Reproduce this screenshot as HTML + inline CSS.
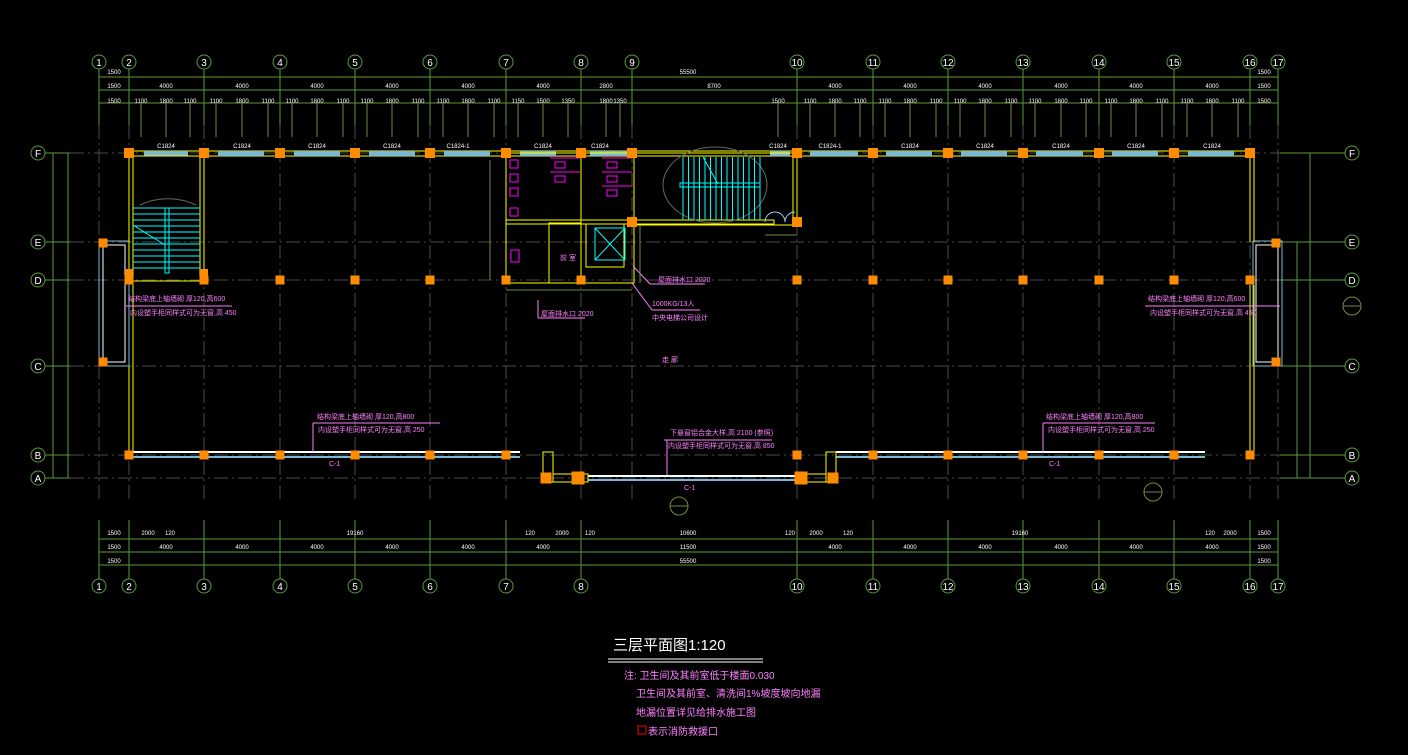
<!DOCTYPE html>
<html><head><meta charset="utf-8"><style>
html,body{margin:0;padding:0;background:#000;width:1408px;height:755px;overflow:hidden}
svg{display:block;position:absolute;left:0;top:0}
text{font-family:"Liberation Sans","Noto Sans CJK SC",sans-serif}
.d{fill:#fff;font-size:6px}
.p{fill:#ff80ff;font-size:7px}
.ax{fill:#fff;font-size:10px;text-anchor:middle}
</style></head><body>
<svg id="s" width="1408" height="755" viewBox="0 0 1408 755" xmlns="http://www.w3.org/2000/svg">
<g id="g"></g>
<g class="ax">
<text x="99" y="66">1</text><text x="129" y="66">2</text><text x="204" y="66">3</text><text x="280" y="66">4</text><text x="355" y="66">5</text><text x="430" y="66">6</text><text x="506" y="66">7</text><text x="581" y="66">8</text><text x="632" y="66">9</text><text x="797" y="66">10</text><text x="873" y="66">11</text><text x="948" y="66">12</text><text x="1023" y="66">13</text><text x="1099" y="66">14</text><text x="1174" y="66">15</text><text x="1250" y="66">16</text><text x="1278" y="66">17</text>
<text x="99" y="590">1</text><text x="129" y="590">2</text><text x="204" y="590">3</text><text x="280" y="590">4</text><text x="355" y="590">5</text><text x="430" y="590">6</text><text x="506" y="590">7</text><text x="581" y="590">8</text><text x="797" y="590">10</text><text x="873" y="590">11</text><text x="948" y="590">12</text><text x="1023" y="590">13</text><text x="1099" y="590">14</text><text x="1174" y="590">15</text><text x="1250" y="590">16</text><text x="1278" y="590">17</text>
<text x="38" y="157">F</text><text x="38" y="246">E</text><text x="38" y="284">D</text><text x="38" y="370">C</text><text x="38" y="459">B</text><text x="38" y="482">A</text>
<text x="1352" y="157">F</text><text x="1352" y="246">E</text><text x="1352" y="284">D</text><text x="1352" y="370">C</text><text x="1352" y="459">B</text><text x="1352" y="482">A</text>
</g>
<g class="d" text-anchor="middle">
<text x="688" y="74">55500</text><text x="114" y="74">1500</text><text x="1264" y="74">1500</text>
<text x="114" y="88">1500</text><text x="166" y="88">4000</text><text x="242" y="88">4000</text><text x="317" y="88">4000</text><text x="392" y="88">4000</text><text x="468" y="88">4000</text><text x="543" y="88">4000</text><text x="606" y="88">2800</text><text x="714" y="88">8700</text><text x="835" y="88">4000</text><text x="910" y="88">4000</text><text x="985" y="88">4000</text><text x="1061" y="88">4000</text><text x="1136" y="88">4000</text><text x="1212" y="88">4000</text><text x="1264" y="88">1500</text>
<text x="114" y="103">1500</text><text x="141" y="103">1100</text><text x="166" y="103">1800</text><text x="190" y="103">1100</text><text x="216" y="103">1100</text><text x="242" y="103">1800</text><text x="268" y="103">1100</text><text x="292" y="103">1100</text><text x="317" y="103">1800</text><text x="343" y="103">1100</text><text x="367" y="103">1100</text><text x="392" y="103">1800</text><text x="418" y="103">1100</text><text x="443" y="103">1100</text><text x="468" y="103">1800</text><text x="494" y="103">1100</text><text x="518" y="103">1150</text><text x="543" y="103">1500</text><text x="568" y="103">1350</text><text x="606" y="103">1800</text><text x="620" y="103">1350</text><text x="778" y="103">1500</text><text x="810" y="103">1100</text><text x="835" y="103">1800</text><text x="860" y="103">1100</text><text x="885" y="103">1100</text><text x="910" y="103">1800</text><text x="936" y="103">1100</text><text x="960" y="103">1100</text><text x="985" y="103">1800</text><text x="1011" y="103">1100</text><text x="1035" y="103">1100</text><text x="1061" y="103">1800</text><text x="1086" y="103">1100</text><text x="1111" y="103">1100</text><text x="1136" y="103">1800</text><text x="1162" y="103">1100</text><text x="1187" y="103">1100</text><text x="1212" y="103">1800</text><text x="1238" y="103">1100</text><text x="1264" y="103">1500</text>
<text x="114" y="535">1500</text><text x="148" y="535">2000</text><text x="170" y="535">120</text><text x="355" y="535">19160</text><text x="530" y="535">120</text><text x="562" y="535">2000</text><text x="590" y="535">120</text><text x="688" y="535">10600</text><text x="790" y="535">120</text><text x="816" y="535">2000</text><text x="848" y="535">120</text><text x="1020" y="535">19160</text><text x="1210" y="535">120</text><text x="1230" y="535">2000</text><text x="1264" y="535">1500</text>
<text x="114" y="549">1500</text><text x="166" y="549">4000</text><text x="242" y="549">4000</text><text x="317" y="549">4000</text><text x="392" y="549">4000</text><text x="468" y="549">4000</text><text x="543" y="549">4000</text><text x="688" y="549">11500</text><text x="835" y="549">4000</text><text x="910" y="549">4000</text><text x="985" y="549">4000</text><text x="1061" y="549">4000</text><text x="1136" y="549">4000</text><text x="1212" y="549">4000</text><text x="1264" y="549">1500</text>
<text x="114" y="563">1500</text><text x="688" y="563">55500</text><text x="1264" y="563">1500</text>
<text x="166" y="148">C1824</text><text x="242" y="148">C1824</text><text x="317" y="148">C1824</text><text x="392" y="148">C1824</text><text x="458" y="148">C1824-1</text><text x="543" y="148">C1824</text><text x="600" y="148">C1824</text><text x="778" y="148">C1824</text><text x="830" y="148">C1824-1</text><text x="910" y="148">C1824</text><text x="985" y="148">C1824</text><text x="1061" y="148">C1824</text><text x="1136" y="148">C1824</text><text x="1212" y="148">C1824</text>
</g>
<g class="p">
<text x="128" y="301">结构梁底上轴墙砌 厚120,高600</text>
<text x="130" y="315">内设塑手柜同样式可为无窗,高 450</text>
<text x="1148" y="301">结构梁底上轴墙砌 厚120,高600</text>
<text x="1150" y="315">内设塑手柜同样式可为无窗,高 450</text>
<text x="317" y="419">结构梁底上轴墙砌 厚120,高800</text>
<text x="318" y="432">内设塑手柜同样式可为无窗,高 250</text>
<text x="1046" y="419">结构梁底上轴墙砌 厚120,高800</text>
<text x="1048" y="432">内设塑手柜同样式可为无窗,高 250</text>
<text x="670" y="435">下悬窗铝合金大样,高 2100 (参照)</text>
<text x="668" y="448">内设塑手柜同样式可为无窗,高 850</text>
<text x="652" y="306">1000KG/13人</text>
<text x="652" y="320">中央电梯公司设计</text>
<text x="658" y="282">屋面排水口 2020</text>
<text x="541" y="316">屋面排水口 2020</text>
<text x="662" y="362">走 廊</text>
<text x="329" y="466">C-1</text><text x="1049" y="466">C-1</text><text x="684" y="490">C-1</text>
<text x="560" y="260">前 室</text>
<text x="624" y="679" style="font-size:10px">注: 卫生间及其前室低于楼面0.030</text>
<text x="636" y="697" style="font-size:10px">卫生间及其前室、清洗间1%坡度坡向地漏</text>
<text x="636" y="716" style="font-size:10px">地漏位置详见给排水施工图</text>
<text x="648" y="735" style="font-size:10px">表示消防救援口</text>
</g>
<rect x="638" y="726" width="8" height="8" fill="none" stroke="#f00"/>
<text x="613" y="650" fill="#fff" style="font-size:15px">三层平面图1:120</text>
<line x1="608" y1="659" x2="763" y2="659" stroke="#fff"/><line x1="608" y1="662" x2="763" y2="662" stroke="#fff"/>
</svg>
<script>
var g=document.getElementById('g'),NS='http://www.w3.org/2000/svg';
function E(t,a){var e=document.createElementNS(NS,t);for(var k in a)e.setAttribute(k,a[k]);g.appendChild(e);return e}
function L(x1,y1,x2,y2,c,w,da){var a={x1:x1,y1:y1,x2:x2,y2:y2,stroke:c,'stroke-width':w||1};if(da)a['stroke-dasharray']=da;E('line',a)}
function R(x,y,w,h,c,f,sw){E('rect',{x:x,y:y,width:w,height:h,stroke:c||'none',fill:f||'none','stroke-width':sw||1})}
var X=[99,129,204,280,355,430,506,581,632,797,873,948,1023,1099,1174,1250,1278];
var Y=[153,242,280,366,455,478];
var G='#5a9a3a',GD='#6f8a3a',DG='#4a4a4a';
X.forEach(function(x){L(x,125,x,500,DG,1,'14 4 2 4')});
Y.forEach(function(y){L(70,y,1300,y,DG,1,'14 4 2 4')});
X.forEach(function(x){E('circle',{cx:x,cy:62,r:7,stroke:G,fill:'none'});L(x,69,x,125,G);
 if(x!=632){E('circle',{cx:x,cy:586,r:7,stroke:G,fill:'none'});L(x,520,x,579,G);}});
[77,90,103].forEach(function(y){L(99,y,1278,y,G)});
[539,552,565].forEach(function(y){L(99,y,1278,y,G)});
[141,166,190,216,242,268,292,317,343,367,392,418,443,468,494,518,543,568,606,620,778,810,835,860,885,910,936,960,985,1011,1035,1061,1086,1111,1136,1162,1187,1212,1238].forEach(function(x){L(x,103,x,137,GD)});
Y.forEach(function(y){E('circle',{cx:38,cy:y,r:7,stroke:G,fill:'none'});L(45,y,70,y,G);
 E('circle',{cx:1352,cy:y,r:7,stroke:G,fill:'none'});L(1280,y,1345,y,G);});
L(53,153,53,478,G);L(68,153,68,478,G);L(1297,242,1297,478,G);L(1310,153,1310,478,G);
[[1352,306],[679,506],[1153,492]].forEach(function(p){E('circle',{cx:p[0],cy:p[1],r:9,stroke:GD,fill:'none'});L(p[0]-9,p[1],p[0]+9,p[1],GD)});
R(129,151,1121,5,'#ff0');
L(129,151,129,455,'#ff0');L(133,156,133,455,'#ff0');
L(1250,151,1250,242,'#ff0');L(1254,156,1254,242,'#ff0');
L(1250,285,1250,455,'#ff0');L(1254,285,1254,455,'#ff0');
[[144,188],[218,264],[294,340],[369,415],[444,490],[520,556],[590,628],[770,790],[810,858],[886,932],[961,1007],[1036,1083],[1112,1158],[1188,1234]].forEach(function(s){R(s[0],151,s[1]-s[0],5,'none','#7ab8d8')});
L(133,452,520,452,'#fff',2);L(133,457,520,457,'#7ab8d8',2);
L(836,452,1205,452,'#fff',2);L(836,457,1205,457,'#7ab8d8',2);
R(543,452,10,30,'#ff0');R(826,452,10,30,'#ff0');
L(588,476,800,476,'#fff',2);L(588,480,800,480,'#7ab8d8',2);
R(553,474,35,8,'#ff0');R(800,474,26,8,'#ff0');
R(99,241,30,125,'#7ab8d8');R(103,245,22,117,'#fff');
R(1253,241,29,125,'#7ab8d8');R(1256,245,22,117,'#fff');
R(129,156,75,125,'#ff0');R(200,156,4,125,'#ff0');
E('path',{d:'M140 205 A 52 40 0 0 1 196 205',stroke:'#666',fill:'none'});
for(var y=208;y<=270;y+=6)L(133,y,200,y,'#0ff');
R(165,208,4,65,'#0ff');L(133,225,165,245,'#0ff');
R(506,153,128,130,'#ff0');L(581,153,581,283,'#ff0');
R(506,220,126,4,'#ff0');R(549,223,32,60,'#ff0');
R(586,224,38,43,'#ff0');R(595,228,30,32,'#0ff');L(595,228,625,260,'#0ff');L(625,228,595,260,'#0ff');
for(var i=0;i<3;i++){R(510,160+i*14,8,8,'#f0f');}
R(510,208,8,8,'#f0f');R(511,250,8,12,'#f0f');
[0,1].forEach(function(j){[0,1,2].forEach(function(i){if(j==0&&i==2)return;R(555+j*52,162+i*14,10,6,'#f0f');L(550+j*52,158+i*14,580+j*52,158+i*14,'#f0f')})});
R(634,153,163,72,'#ff0');R(634,220,140,4,'#ff0');R(793,156,4,70,'#ff0');
E('ellipse',{cx:715,cy:185,rx:52,ry:38,stroke:'#666',fill:'none'});
for(var x=683;x<=760;x+=5.5)L(x,157,x,220,'#0ff');R(680,183,80,4,'#0ff');
L(703,157,718,184,'#0ff');
E('path',{d:'M765 222 A 10 10 0 0 1 785 222 M785 222 A10 10 0 0 1 795 212',stroke:'#9cf',fill:'none'});
function C(x,y,s){R(x-s/2,y-s/2,s,s,'none','#ff8c00')}
[129,204,280,355,430,506,581,632,797,873,948,1023,1099,1174,1250].forEach(function(x){C(x,153,10)});
[129,204,280,355,430,506,581,797,873,948,1023,1099,1174,1250].forEach(function(x){C(x,280,9)});
[129,204,280,355,430,506,797,873,948,1023,1099,1174,1250].forEach(function(x){C(x,455,9)});
C(546,478,11);C(578,478,13);C(801,478,13);C(833,478,11);C(632,222,10);C(797,222,10);
C(103,243,9);C(103,362,9);C(1276,243,9);C(1276,362,9);C(129,273,8);C(204,273,8);
var P='#ff80ff';
L(126,306,232,306,P);L(1145,306,1280,306,P);
L(313,423,440,423,P);L(1043,423,1155,423,P);L(664,440,772,440,P);
L(313,423,313,452,P);L(1043,423,1043,452,P);L(667,440,667,475,P);
L(652,310,700,310,P);L(632,283,652,310,P);L(538,318,585,318,P);L(538,300,538,318,P);
L(650,284,705,284,P);L(633,266,650,284,P);
L(506,290,632,290,GD);L(640,225,640,283,GD);L(490,160,490,280,GD);L(765,235,797,235,GD);
</script>
</body></html>
